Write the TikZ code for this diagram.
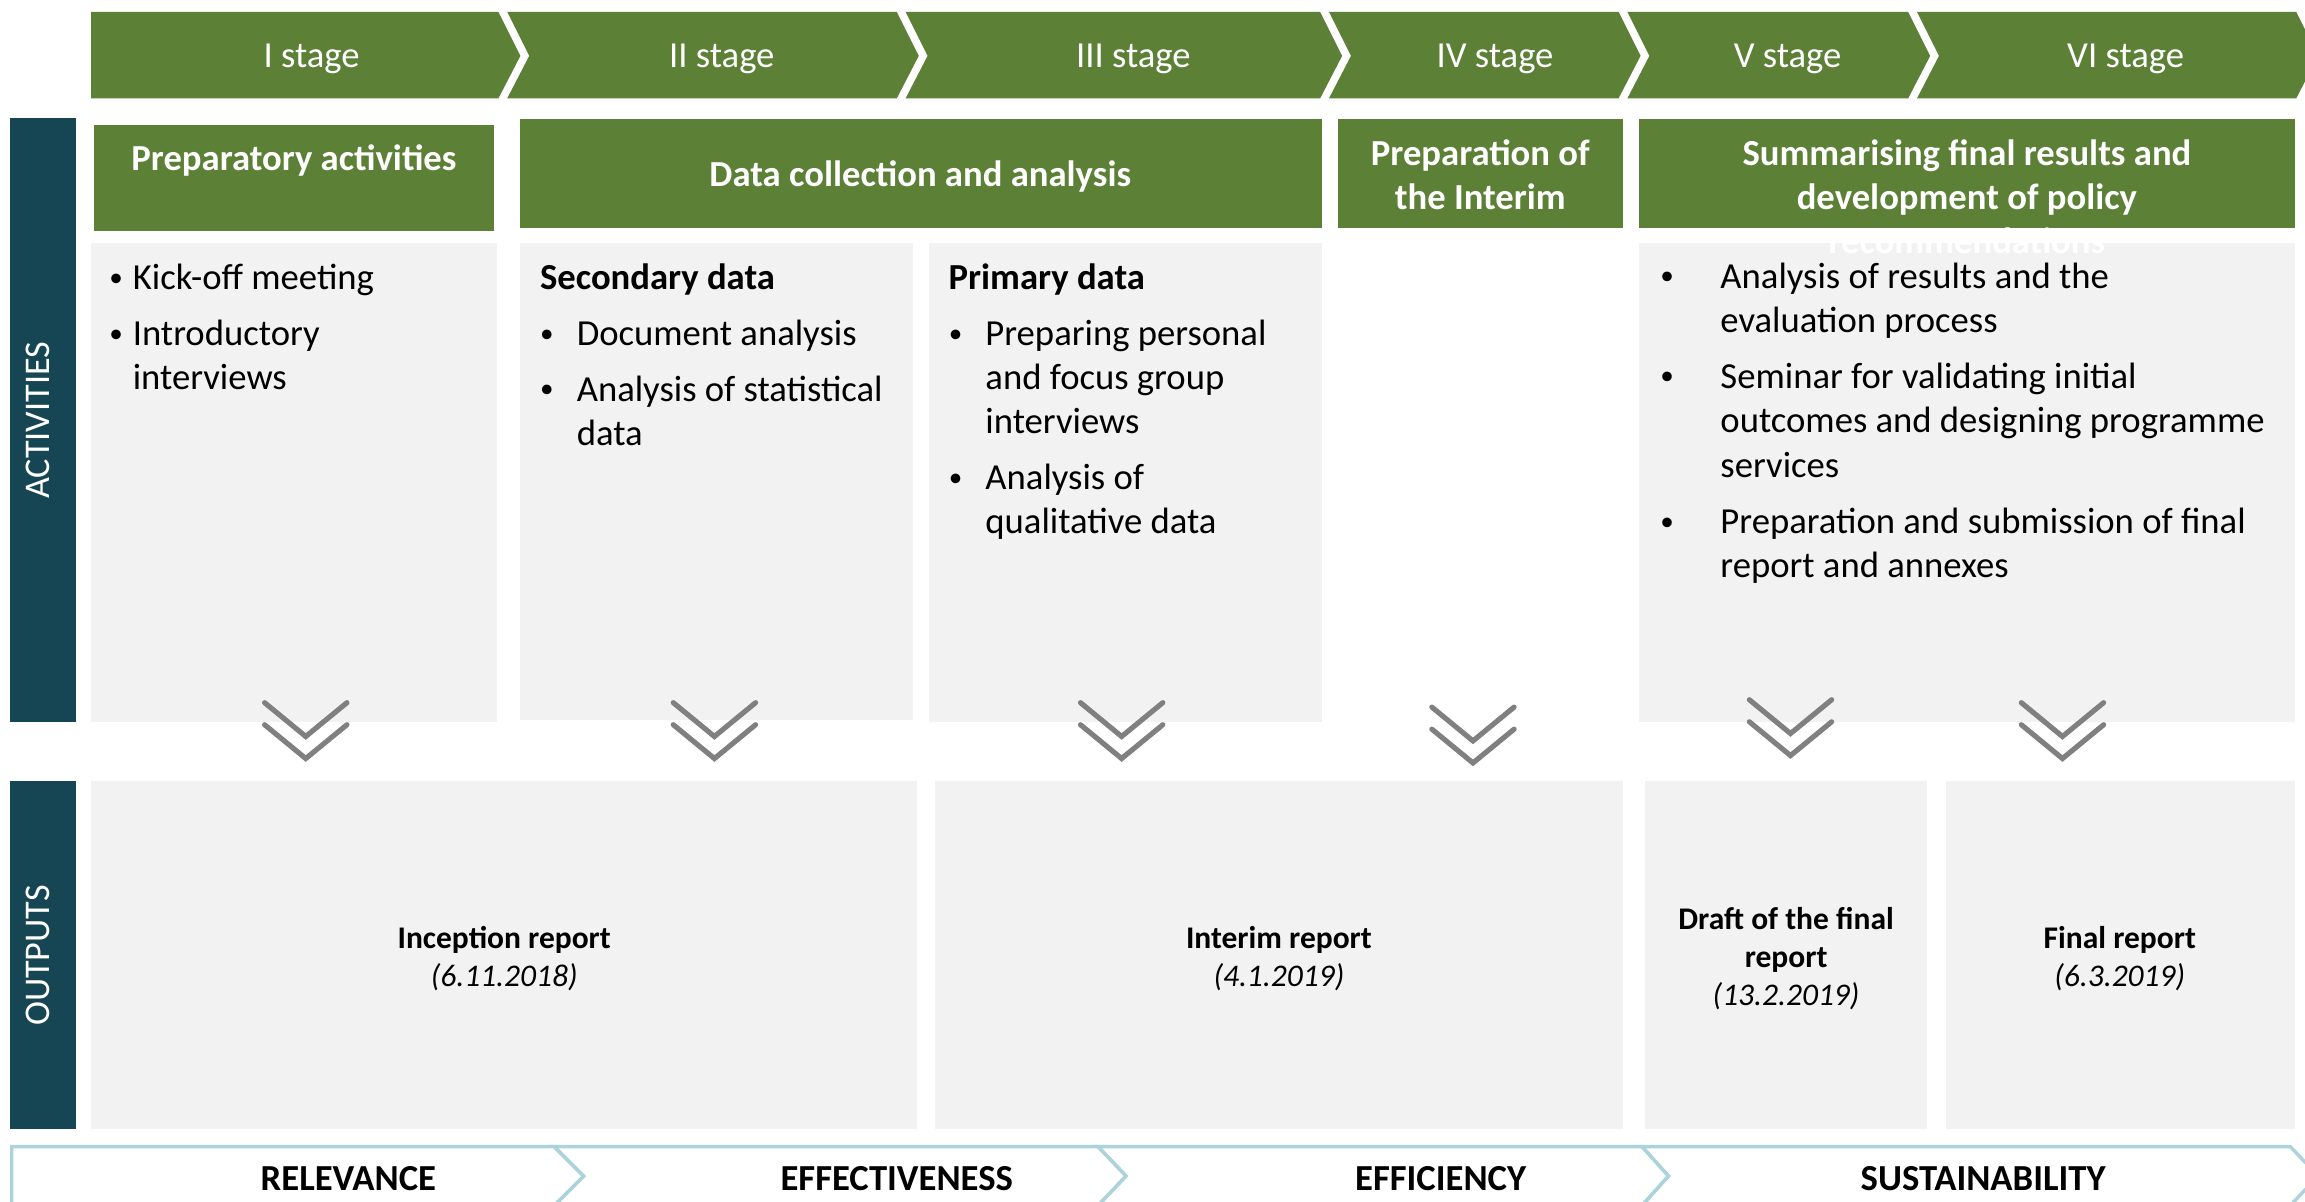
\documentclass[tikz,border=0pt]{standalone}
\usepackage{fontspec}
\setmainfont{Carlito}
\definecolor{stagegreen}{HTML}{5B8036}
\definecolor{tealbar}{HTML}{164653}
\definecolor{boxgrey}{HTML}{F2F2F2}
\definecolor{arrgrey}{HTML}{808080}
\definecolor{critline}{HTML}{ADD3DA}
\newcommand\txtline[4]{\node[body] (#1) at (#2,#3) {#4};}
\newcommand\bul[3]{\node[bulnode] (#1) at (#2,#3) {\textbullet};}
\tikzset{
  stagelbl/.style={text=white, font=\fontsize{14.2}{17}\selectfont, inner sep=0},
  hdr/.style={text=white, font=\fontsize{14.2}{17.07}\selectfont\bfseries, align=center, inner sep=0},
  body/.style={text=black, font=\fontsize{14.2}{17.07}\selectfont, anchor=base west, inner sep=0},
  bulnode/.style={text=black, font=\fontsize{10.5}{12}\selectfont, anchor=base, inner sep=0, yshift=1.3pt},
  outlbl/.style={text=black, font=\fontsize{12.2}{14.8}\selectfont, align=center, inner sep=0},
  sidelbl/.style={text=white, font=\fontsize{14}{17}\selectfont, rotate=90, inner sep=0},
  critlbl/.style={text=black, font=\fontsize{14.2}{17}\selectfont\bfseries, anchor=base, inner sep=0},
  dblarr/.style={draw=arrgrey, line width=2pt, line cap=round},
  greybox/.style={fill=boxgrey},
  crit/.style={draw=critline, line width=1.3pt, line join=miter},
}
\begin{document}
\begin{tikzpicture}[x=0.02cm, y=-0.02cm]
\useasboundingbox (0,0) rectangle (1568,817);

% top stage chevrons
\fill[stagegreen] (62,8) -- (339,8) -- (354,38) -- (339,67) -- (62,67) -- cycle;
\fill[stagegreen] (345,8) -- (610,8) -- (625,38) -- (610,67) -- (345,67) -- (360,38) -- cycle;
\fill[stagegreen] (616,8) -- (898,8) -- (913,38) -- (898,67) -- (616,67) -- (631,38) -- cycle;
\fill[stagegreen] (904,8) -- (1101,8) -- (1116,38) -- (1101,67) -- (904,67) -- (919,38) -- cycle;
\fill[stagegreen] (1107,8) -- (1298,8) -- (1313,38) -- (1298,67) -- (1107,67) -- (1122,38) -- cycle;
\fill[stagegreen] (1304,8) -- (1562,8) -- (1577,38) -- (1562,67) -- (1304,67) -- (1319,38) -- cycle;
\node[stagelbl] (s1) at (212,40) {I stage};
\node[stagelbl] (s2) at (491,40) {II stage};
\node[stagelbl] (s3) at (771,40) {III stage};
\node[stagelbl] (s4) at (1017,40) {IV stage};
\node[stagelbl] (s5) at (1216,40) {V stage};
\node[stagelbl] (s6) at (1446,40) {VI stage};

% side bars
\fill[tealbar] (7,80) rectangle (52,491);
\fill[tealbar] (7,531) rectangle (52,768);
\node[sidelbl] (act) at (26,286) {ACTIVITIES};
\node[sidelbl] (out) at (26,650) {OUTPUTS};

% grey activity boxes
\fill[greybox] (62,165) rectangle (338,491);
\fill[greybox] (354,165) rectangle (621,490);
\fill[greybox] (632,165) rectangle (899,491);
\fill[greybox] (1115,165) rectangle (1561,491);

% green headers
\fill[stagegreen] (64,85) rectangle (336,157);
\fill[stagegreen] (354,81) rectangle (899,155);
\fill[stagegreen] (910,81) rectangle (1104,155);
\fill[stagegreen] (1115,81) rectangle (1561,155);
\node[hdr] (h1) at (200,109) {Preparatory activities};
\node[hdr] (h2) at (626,120) {Data collection and analysis};
\node[hdr] (h4) at (1007,119) {Preparation of\\the Interim};
\node[hdr] (h5) at (1338,134) {Summarising final results and\\development of policy\\recommendations};

% box 1
\bul{b1a}{79}{197} \txtline{t1a}{90}{197}{Kick-off meeting}
\bul{b1b}{79}{235} \txtline{t1b}{90}{235}{Introductory}
\txtline{t1c}{90}{265}{interviews}

% box 2
\txtline{t2h}{367}{197}{\bfseries Secondary data}
\bul{b2a}{372}{235} \txtline{t2a}{392}{235}{Document analysis}
\bul{b2b}{372}{273} \txtline{t2b}{392}{273}{Analysis of statistical}
\txtline{t2c}{392}{303}{data}

% box 3
\txtline{t3h}{645}{197}{\bfseries Primary data}
\bul{b3a}{650}{235} \txtline{t3a}{670}{235}{Preparing personal}
\txtline{t3b}{670}{265}{and focus group}
\txtline{t3c}{670}{295}{interviews}
\bul{b3b}{650}{333} \txtline{t3d}{670}{333}{Analysis of}
\txtline{t3e}{670}{363}{qualitative data}

% box 5
\bul{b5a}{1134}{196} \txtline{t5a}{1170}{196}{Analysis of results and the}
\txtline{t5b}{1170}{226}{evaluation process}
\bul{b5b}{1134}{264} \txtline{t5c}{1170}{264}{Seminar for validating initial}
\txtline{t5d}{1170}{294}{outcomes and designing programme}
\txtline{t5e}{1170}{325}{services}
\bul{b5c}{1134}{363} \txtline{t5f}{1170}{363}{Preparation and submission of final}
\txtline{t5g}{1170}{393}{report and annexes}

% double arrows
\foreach \cx/\cy in {208/478, 486/478, 763/478, 1002/481, 1218/476, 1403/478}{
  \draw[dblarr] (\cx-28,\cy) -- (\cx,\cy+23) -- (\cx+28,\cy);
  \draw[dblarr] (\cx-28,\cy+15) -- (\cx,\cy+38) -- (\cx+28,\cy+15);
}

% output boxes
\fill[greybox] (62,531) rectangle (624,768);
\fill[greybox] (636,531) rectangle (1104,768);
\fill[greybox] (1119,531) rectangle (1311,768);
\fill[greybox] (1324,531) rectangle (1561,768);
\node[outlbl] (o1) at (343,652) {\textbf{Inception report}\\\textit{(6.11.2018)}};
\node[outlbl] (o2) at (870,652) {\textbf{Interim report}\\\textit{(4.1.2019)}};
\node[outlbl] (o3) at (1215,652) {\textbf{Draft of the final}\\\textbf{report}\\\textit{(13.2.2019)}};
\node[outlbl] (o4) at (1442,652) {\textbf{Final report}\\\textit{(6.3.2019)}};

% criteria chevrons
\draw[crit] (8,780) -- (377,780) -- (397,800) -- (377,820) -- (8,820) -- cycle;
\draw[crit] (377,780) -- (747,780) -- (766,800) -- (747,820) -- (377,820) -- (397,800) -- cycle;
\draw[crit] (747,780) -- (1117,780) -- (1135,800) -- (1117,820) -- (747,820) -- (766,800) -- cycle;
\draw[crit] (1117,780) -- (1558,780) -- (1577,800) -- (1558,820) -- (1117,820) -- (1135,800) -- cycle;
\node[critlbl] (c1) at (237,810) {RELEVANCE};
\node[critlbl] (c2) at (610,810) {EFFECTIVENESS};
\node[critlbl] (c3) at (980,810) {EFFICIENCY};
\node[critlbl] (c4) at (1349,810) {SUSTAINABILITY};
\end{tikzpicture}
\end{document}
